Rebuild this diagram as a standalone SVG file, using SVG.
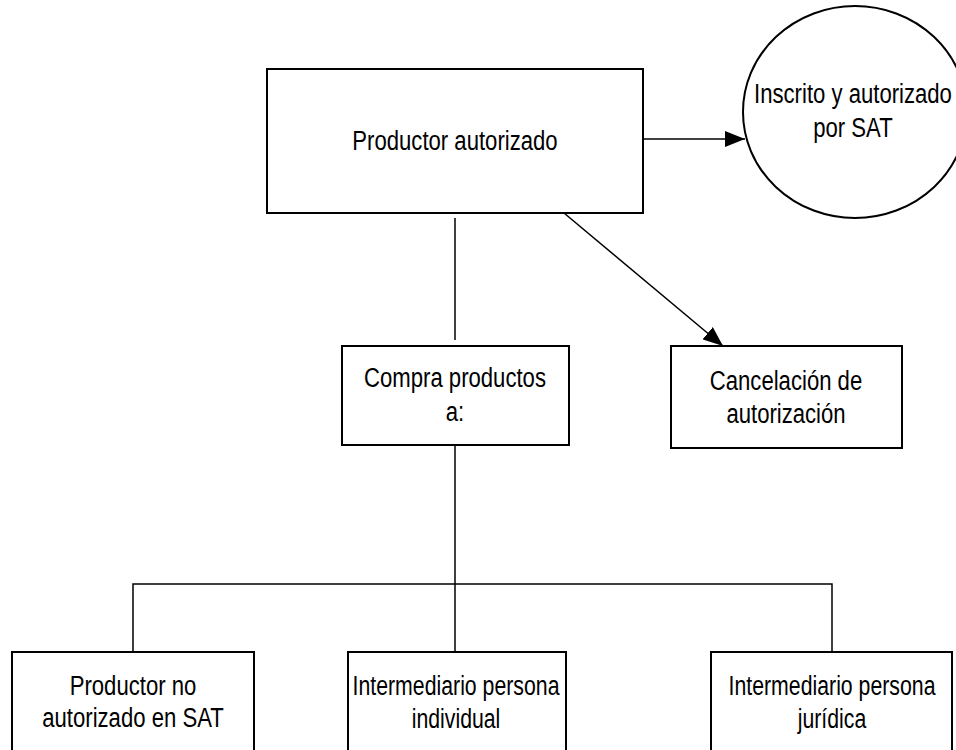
<svg xmlns="http://www.w3.org/2000/svg" width="956" height="750" viewBox="0 0 956 750">
  <style>
    .box { fill: #ffffff; stroke: #000000; stroke-width: 2; }
    .lbl { font-family: "Liberation Sans", Arial, sans-serif; font-size: 28px; fill: #000000; text-anchor: middle; }
    .wire { fill: none; stroke: #000000; stroke-width: 1.5; }
  </style>
  <defs>
    <marker id="arrow" markerUnits="userSpaceOnUse" markerWidth="20" markerHeight="16" viewBox="0 0 20 16" refX="20" refY="8" orient="auto">
      <path d="M0,0 L20,8 L0,16 Z" fill="#000000"/>
    </marker>
  </defs>
  <rect width="956" height="750" fill="#ffffff"/>

  <g id="connectors">
    <line class="wire" x1="643" y1="139" x2="745" y2="139" marker-end="url(#arrow)"/>
    <line class="wire" x1="564" y1="213" x2="723" y2="346" marker-end="url(#arrow)"/>
    <line class="wire" x1="455" y1="218" x2="455" y2="340"/>
    <line class="wire" x1="455" y1="445" x2="455" y2="652"/>
    <polyline class="wire" points="133,652 133,584 832,584 832,652"/>
  </g>

  <!-- labels are set in a narrow face: regular sans squeezed horizontally -->
  <g id="productor-autorizado">
    <rect class="box" x="267" y="69" width="376" height="144"/>
    <g transform="translate(455,0) scale(0.79,1)">
      <text class="lbl" x="0" y="150">Productor autorizado</text>
    </g>
  </g>

  <g id="inscrito-sat">
    <ellipse class="box" cx="855" cy="112" rx="112" ry="106"/>
    <g transform="translate(853,0) scale(0.79,1)">
      <text class="lbl" x="0" y="103">Inscrito y autorizado</text>
      <text class="lbl" x="0" y="137">por SAT</text>
    </g>
  </g>

  <g id="compra-productos">
    <rect class="box" x="342" y="346" width="227" height="99"/>
    <g transform="translate(455,0) scale(0.79,1)">
      <text class="lbl" x="0" y="387">Compra productos</text>
      <text class="lbl" x="0" y="421">a:</text>
    </g>
  </g>

  <g id="cancelacion">
    <rect class="box" x="671" y="346" width="231" height="102"/>
    <g transform="translate(786,0) scale(0.79,1)">
      <text class="lbl" x="0" y="390">Cancelación de</text>
      <text class="lbl" x="0" y="423">autorización</text>
    </g>
  </g>

  <g id="productor-no-autorizado">
    <rect class="box" x="12" y="652" width="242" height="110"/>
    <g transform="translate(133,0) scale(0.79,1)">
      <text class="lbl" x="0" y="695">Productor no</text>
      <text class="lbl" x="0" y="727">autorizado en SAT</text>
    </g>
  </g>

  <g id="intermediario-individual">
    <rect class="box" x="348" y="652" width="218" height="110"/>
    <g transform="translate(456,0) scale(0.76,1)">
      <text class="lbl" x="0" y="695">Intermediario persona</text>
      <text class="lbl" x="0" y="728">individual</text>
    </g>
  </g>

  <g id="intermediario-juridica">
    <rect class="box" x="711" y="652" width="241" height="110"/>
    <g transform="translate(832,0) scale(0.76,1)">
      <text class="lbl" x="0" y="695">Intermediario persona</text>
      <text class="lbl" x="0" y="728">jurídica</text>
    </g>
  </g>
</svg>
